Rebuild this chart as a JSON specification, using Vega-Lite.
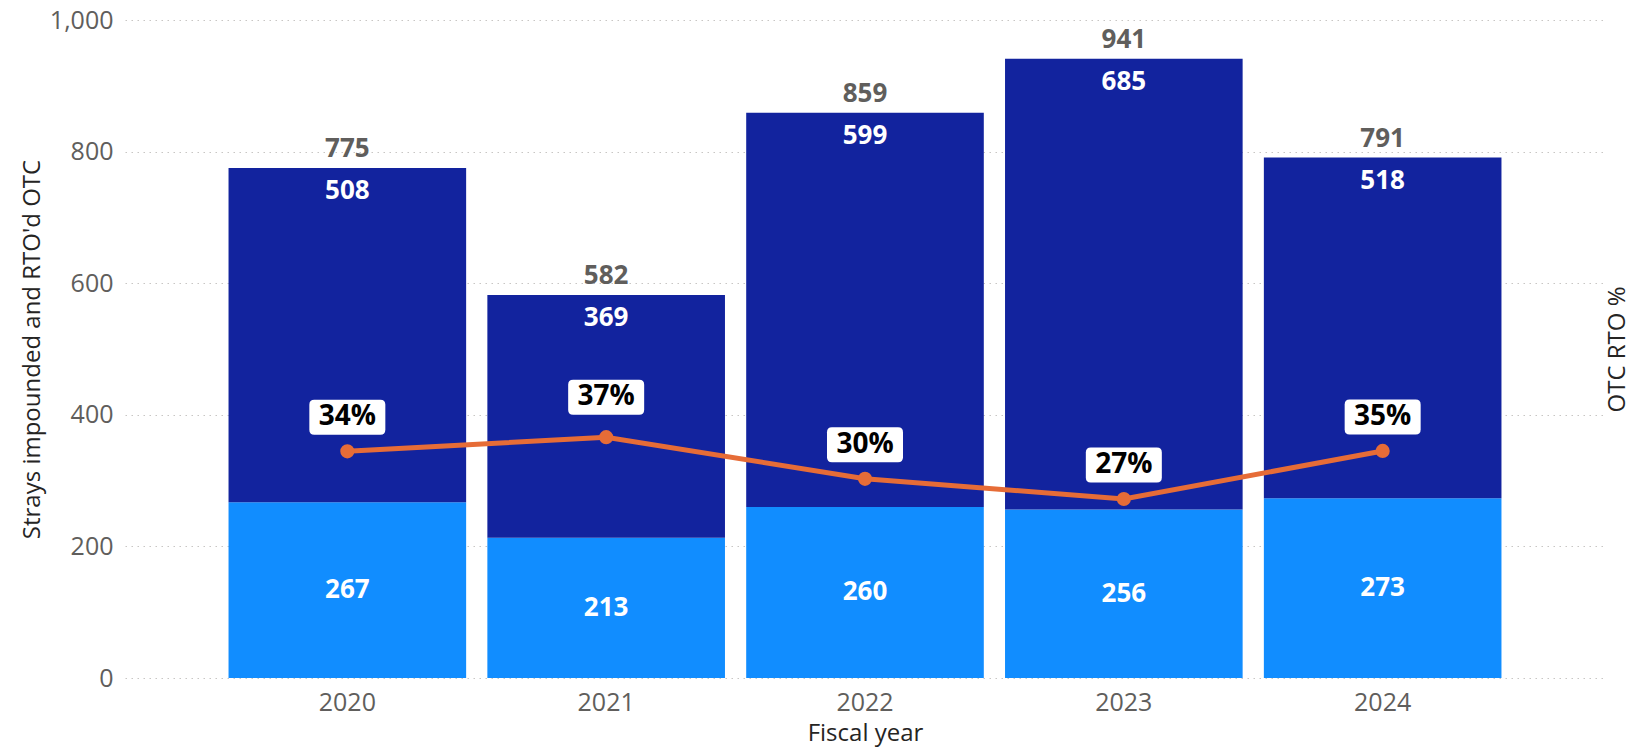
{
  "$schema": "https://vega.github.io/schema/vega-lite/v6.json",
  "width": 1480,
  "height": 658,
  "autosize": {"type": "none"},
  "padding": {"left": 125, "top": 20, "right": 27, "bottom": 71},
  "background": "white",
  "config": {
    "view": {"stroke": null},
    "font": "Open Sans",
    "axis": {
      "labelFont": "Open Sans",
      "titleFont": "Open Sans",
      "labelColor": "#605E5C",
      "titleColor": "#252423",
      "titleFontWeight": "normal",
      "ticks": false,
      "domain": false
    }
  },
  "data": {
    "values": [
      {"year": "2020", "rto": 267, "not_rto": 508, "total": 775, "rto_pct": 0.3445},
      {"year": "2021", "rto": 213, "not_rto": 369, "total": 582, "rto_pct": 0.366},
      {"year": "2022", "rto": 260, "not_rto": 599, "total": 859, "rto_pct": 0.3027},
      {"year": "2023", "rto": 256, "not_rto": 685, "total": 941, "rto_pct": 0.272},
      {"year": "2024", "rto": 273, "not_rto": 518, "total": 791, "rto_pct": 0.3451}
    ]
  },
  "encoding": {
    "x": {
      "field": "year",
      "type": "nominal",
      "scale": {"paddingInner": 0.082, "paddingOuter": 0.4},
      "axis": {
        "title": "Fiscal year",
        "labelAngle": 0,
        "labelFontSize": 25,
        "labelPadding": 12,
        "titleFontSize": 24,
        "titlePadding": 6,
        "grid": false
      }
    }
  },
  "layer": [
    {
      "transform": [{"fold": ["rto", "not_rto"], "as": ["series", "count"]}],
      "mark": {"type": "bar"},
      "encoding": {
        "y": {
          "field": "count",
          "type": "quantitative",
          "stack": "zero",
          "scale": {"domain": [0, 1000]},
          "axis": {
            "orient": "left",
            "title": "Strays impounded and RTO'd OTC",
            "values": [0, 200, 400, 600, 800, 1000],
            "format": ",.0f",
            "labelFontSize": 25,
            "labelPadding": 12,
            "titleFontSize": 24,
            "titlePadding": 5,
            "grid": true,
            "gridColor": "#C8C6C4",
            "gridDash": [1.5, 4.5],
            "gridWidth": 1.2
          }
        },
        "color": {
          "field": "series",
          "type": "nominal",
          "scale": {"domain": ["rto", "not_rto"], "range": ["#118DFF", "#12239E"]},
          "legend": null
        },
        "order": {"field": "series", "sort": "descending"}
      }
    },
    {
      "mark": {"type": "text", "color": "white", "fontWeight": "bold", "fontSize": 26, "baseline": "middle"},
      "encoding": {
        "y": {"field": "rto", "type": "quantitative", "scale": {"domain": [0, 2000]}, "axis": null},
        "text": {"field": "rto", "type": "quantitative"}
      }
    },
    {
      "mark": {"type": "text", "color": "white", "fontWeight": "bold", "fontSize": 26, "baseline": "middle", "yOffset": 23},
      "encoding": {
        "y": {"field": "total", "type": "quantitative", "scale": {"domain": [0, 1000]}, "axis": null},
        "text": {"field": "not_rto", "type": "quantitative"}
      }
    },
    {
      "mark": {"type": "text", "color": "#605E5C", "fontWeight": "bold", "fontSize": 26, "baseline": "middle", "yOffset": -19},
      "encoding": {
        "y": {"field": "total", "type": "quantitative", "scale": {"domain": [0, 1000]}, "axis": null},
        "text": {"field": "total", "type": "quantitative", "format": ","}
      }
    },
    {
      "mark": {"type": "line", "color": "#E66C37", "strokeWidth": 5, "point": {"filled": true, "size": 200, "color": "#E66C37", "opacity": 1}},
      "encoding": {
        "y": {
          "field": "rto_pct",
          "type": "quantitative",
          "scale": {"domain": [0, 1]},
          "axis": {
            "orient": "right",
            "title": "OTC RTO %",
            "labels": false,
            "grid": false,
            "titleFontSize": 24,
            "titleAngle": 270,
            "titlePadding": 24
          }
        }
      }
    },
    {
      "transform": [{"filter": "datum.year !== '2021'"}],
      "layer": [
        {
          "mark": {
            "type": "point",
            "filled": true,
            "opacity": 1,
            "color": "white",
            "strokeWidth": 0,
            "size": 5776,
            "yOffset": -34,
            "shape": "M-0.87,-0.46 L0.87,-0.46 Q1,-0.46 1,-0.33 L1,0.33 Q1,0.46 0.87,0.46 L-0.87,0.46 Q-1,0.46 -1,0.33 L-1,-0.33 Q-1,-0.46 -0.87,-0.46 Z"
          },
          "encoding": {
            "y": {"field": "rto_pct", "type": "quantitative", "scale": {"domain": [0, 1]}, "axis": null}
          }
        },
        {
          "mark": {"type": "text", "color": "#000000", "fontWeight": "bold", "fontSize": 28, "baseline": "middle", "yOffset": -34},
          "encoding": {
            "y": {"field": "rto_pct", "type": "quantitative", "scale": {"domain": [0, 1]}, "axis": null},
            "text": {"field": "rto_pct", "type": "quantitative", "format": ".0%"}
          }
        }
      ]
    },
    {
      "transform": [{"filter": "datum.year === '2021'"}],
      "layer": [
        {
          "mark": {
            "type": "point",
            "filled": true,
            "opacity": 1,
            "color": "white",
            "strokeWidth": 0,
            "size": 5776,
            "yOffset": -40,
            "shape": "M-0.87,-0.46 L0.87,-0.46 Q1,-0.46 1,-0.33 L1,0.33 Q1,0.46 0.87,0.46 L-0.87,0.46 Q-1,0.46 -1,0.33 L-1,-0.33 Q-1,-0.46 -0.87,-0.46 Z"
          },
          "encoding": {
            "y": {"field": "rto_pct", "type": "quantitative", "scale": {"domain": [0, 1]}, "axis": null}
          }
        },
        {
          "mark": {"type": "text", "color": "#000000", "fontWeight": "bold", "fontSize": 28, "baseline": "middle", "yOffset": -40},
          "encoding": {
            "y": {"field": "rto_pct", "type": "quantitative", "scale": {"domain": [0, 1]}, "axis": null},
            "text": {"field": "rto_pct", "type": "quantitative", "format": ".0%"}
          }
        }
      ]
    }
  ],
  "resolve": {"scale": {"y": "independent"}}
}
